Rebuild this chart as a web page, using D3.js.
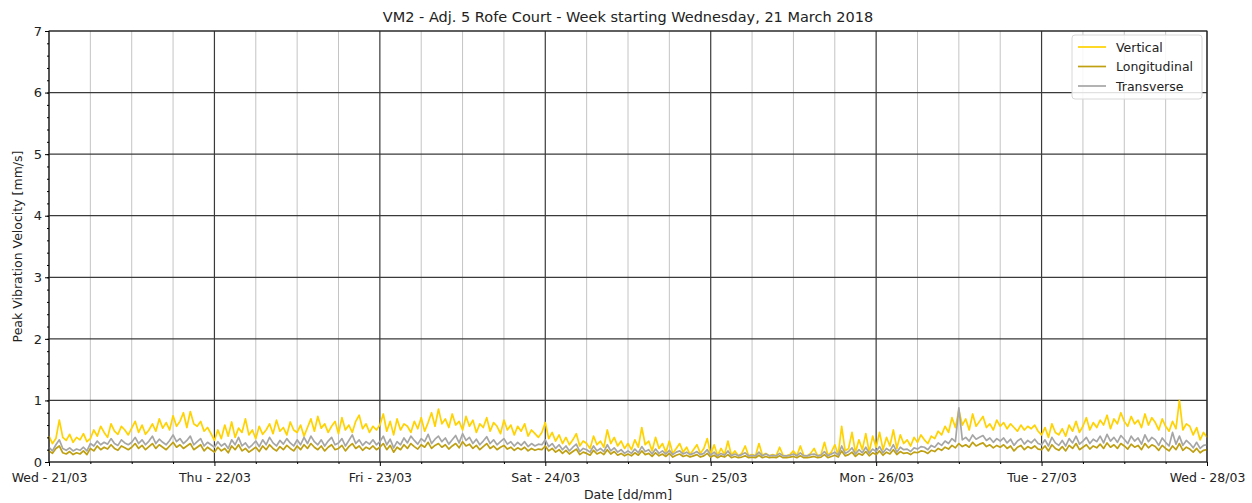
<!DOCTYPE html>
<html>
<head>
<meta charset="utf-8">
<script src="https://cdn.jsdelivr.net/npm/d3@7"></script>
<style>
  body { margin: 0; background: #fff; }
  svg text { font-family: "DejaVu Sans", sans-serif; fill: #222; }
</style>
</head>
<body>
<div id="wrapper"></div>
<script>
// half-hourly peak values [mm/s], Wed 21/03 00:00 to Wed 28/03 00:00
const vertical = [
  0.42,0.30,0.38,0.68,0.40,0.35,0.45,0.32,0.40,0.36,0.46,0.33,
  0.38,0.52,0.42,0.58,0.48,0.40,0.62,0.50,0.45,0.58,0.52,0.44,
  0.55,0.66,0.48,0.60,0.45,0.52,0.62,0.50,0.70,0.55,0.64,0.52,
  0.75,0.58,0.66,0.80,0.56,0.82,0.62,0.58,0.66,0.50,0.56,0.46,
  // Thu
  0.35,0.52,0.38,0.60,0.42,0.65,0.40,0.55,0.48,0.70,0.44,0.52,
  0.38,0.58,0.45,0.52,0.62,0.46,0.68,0.50,0.56,0.44,0.65,0.52,
  0.48,0.60,0.42,0.56,0.70,0.50,0.74,0.55,0.62,0.48,0.58,0.66,
  0.46,0.72,0.52,0.60,0.48,0.66,0.76,0.54,0.62,0.48,0.58,0.52,
  // Fri
  0.60,0.78,0.50,0.66,0.44,0.70,0.52,0.62,0.58,0.48,0.66,0.54,
  0.72,0.50,0.64,0.80,0.58,0.86,0.62,0.70,0.56,0.78,0.60,0.66,
  0.52,0.74,0.58,0.68,0.48,0.62,0.56,0.72,0.50,0.64,0.58,0.46,
  0.68,0.52,0.60,0.44,0.58,0.50,0.62,0.42,0.52,0.46,0.40,0.48,
  // Sat
  0.64,0.38,0.48,0.34,0.44,0.30,0.40,0.28,0.36,0.46,0.26,0.34,
  0.30,0.22,0.42,0.28,0.34,0.24,0.52,0.30,0.40,0.26,0.34,0.22,
  0.30,0.20,0.36,0.24,0.56,0.28,0.34,0.18,0.40,0.22,0.30,0.16,
  0.34,0.14,0.22,0.30,0.16,0.24,0.12,0.20,0.28,0.14,0.22,0.38,
  // Sun
  0.12,0.28,0.10,0.22,0.12,0.34,0.11,0.18,0.10,0.14,0.26,0.10,
  0.12,0.10,0.30,0.11,0.14,0.10,0.12,0.10,0.24,0.11,0.10,0.12,
  0.18,0.10,0.26,0.11,0.10,0.14,0.22,0.10,0.12,0.32,0.11,0.16,
  0.28,0.12,0.58,0.18,0.22,0.48,0.15,0.36,0.20,0.46,0.16,0.42,
  // Mon
  0.24,0.48,0.20,0.40,0.26,0.52,0.22,0.44,0.30,0.36,0.26,0.40,
  0.32,0.44,0.36,0.30,0.42,0.38,0.50,0.44,0.58,0.48,0.72,0.56,
  0.84,0.60,0.70,0.52,0.78,0.58,0.66,0.74,0.56,0.62,0.52,0.68,
  0.58,0.64,0.54,0.62,0.56,0.50,0.60,0.52,0.58,0.54,0.60,0.50,
  // Tue
  0.44,0.56,0.40,0.62,0.48,0.44,0.54,0.42,0.60,0.50,0.66,0.48,
  0.58,0.72,0.52,0.64,0.56,0.68,0.60,0.76,0.54,0.70,0.62,0.80,
  0.66,0.58,0.74,0.62,0.68,0.56,0.78,0.60,0.72,0.64,0.52,0.70,
  0.58,0.50,0.66,0.54,1.00,0.52,0.62,0.58,0.44,0.56,0.36,0.48,
  0.40
];
const longitudinal = [
  0.18,0.14,0.22,0.26,0.15,0.13,0.17,0.12,0.15,0.13,0.18,0.12,
  0.22,0.18,0.26,0.20,0.24,0.21,0.28,0.22,0.19,0.26,0.23,0.20,
  0.24,0.30,0.22,0.27,0.20,0.25,0.30,0.22,0.28,0.24,0.20,0.26,
  0.32,0.24,0.28,0.22,0.26,0.30,0.20,0.24,0.28,0.18,0.24,0.20,
  0.16,0.24,0.18,0.22,0.15,0.26,0.20,0.28,0.18,0.22,0.16,0.20,
  0.24,0.17,0.26,0.20,0.28,0.22,0.18,0.25,0.20,0.27,0.22,0.18,
  0.26,0.20,0.28,0.22,0.30,0.24,0.20,0.26,0.18,0.24,0.28,0.20,
  0.22,0.27,0.18,0.25,0.30,0.22,0.26,0.19,0.24,0.21,0.26,0.20,
  0.24,0.30,0.20,0.27,0.16,0.24,0.20,0.28,0.22,0.30,0.25,0.21,
  0.28,0.24,0.32,0.22,0.27,0.30,0.24,0.28,0.21,0.26,0.30,0.23,
  0.33,0.26,0.29,0.22,0.27,0.20,0.25,0.30,0.22,0.26,0.20,0.24,
  0.27,0.21,0.24,0.19,0.23,0.20,0.24,0.18,0.22,0.19,0.21,0.20,
  0.26,0.18,0.22,0.16,0.20,0.14,0.19,0.13,0.17,0.21,0.12,0.16,
  0.14,0.11,0.19,0.13,0.16,0.12,0.20,0.13,0.17,0.11,0.14,0.10,
  0.13,0.10,0.15,0.11,0.18,0.12,0.14,0.09,0.15,0.10,0.13,0.09,
  0.14,0.08,0.11,0.13,0.09,0.11,0.08,0.10,0.12,0.08,0.10,0.14,
  0.08,0.11,0.07,0.10,0.08,0.12,0.07,0.09,0.07,0.08,0.10,0.07,
  0.08,0.07,0.11,0.07,0.09,0.07,0.08,0.07,0.10,0.07,0.07,0.08,
  0.09,0.07,0.10,0.07,0.07,0.08,0.09,0.07,0.08,0.12,0.07,0.09,
  0.11,0.08,0.18,0.10,0.12,0.16,0.09,0.14,0.11,0.17,0.10,0.15,
  0.12,0.18,0.11,0.16,0.13,0.20,0.12,0.17,0.14,0.15,0.12,0.16,
  0.15,0.18,0.17,0.14,0.19,0.17,0.22,0.19,0.24,0.21,0.27,0.23,
  0.30,0.25,0.28,0.24,0.32,0.26,0.29,0.31,0.25,0.28,0.23,0.27,
  0.24,0.28,0.22,0.26,0.18,0.24,0.27,0.20,0.25,0.22,0.26,0.21,
  0.20,0.26,0.18,0.28,0.22,0.19,0.25,0.18,0.27,0.22,0.30,0.20,
  0.24,0.28,0.21,0.26,0.23,0.29,0.22,0.31,0.24,0.28,0.22,0.30,
  0.26,0.21,0.29,0.24,0.27,0.20,0.30,0.23,0.28,0.25,0.19,0.27,
  0.22,0.18,0.26,0.20,0.30,0.19,0.24,0.21,0.16,0.22,0.15,0.19,
  0.20
];
const transverse = [
  0.24,0.18,0.28,0.36,0.22,0.19,0.23,0.18,0.21,0.19,0.24,0.18,
  0.30,0.26,0.34,0.28,0.32,0.29,0.38,0.30,0.27,0.36,0.31,0.28,
  0.32,0.40,0.30,0.36,0.28,0.34,0.42,0.30,0.37,0.32,0.28,0.35,
  0.44,0.33,0.38,0.30,0.35,0.42,0.28,0.33,0.38,0.26,0.32,0.28,
  0.24,0.33,0.26,0.30,0.22,0.36,0.28,0.40,0.26,0.31,0.23,0.28,
  0.34,0.25,0.36,0.28,0.40,0.31,0.26,0.35,0.29,0.38,0.31,0.26,
  0.36,0.28,0.40,0.30,0.42,0.33,0.28,0.36,0.26,0.34,0.40,0.28,
  0.31,0.38,0.26,0.35,0.44,0.30,0.36,0.27,0.33,0.29,0.36,0.28,
  0.33,0.42,0.28,0.37,0.23,0.33,0.28,0.39,0.31,0.42,0.35,0.29,
  0.38,0.33,0.45,0.30,0.37,0.42,0.33,0.39,0.29,0.36,0.43,0.31,
  0.46,0.35,0.40,0.30,0.37,0.28,0.34,0.41,0.30,0.36,0.28,0.33,
  0.38,0.29,0.33,0.26,0.32,0.27,0.33,0.25,0.30,0.26,0.29,0.28,
  0.36,0.25,0.30,0.22,0.28,0.20,0.26,0.18,0.24,0.29,0.17,0.22,
  0.20,0.16,0.26,0.18,0.22,0.17,0.28,0.18,0.23,0.16,0.20,0.14,
  0.18,0.14,0.21,0.15,0.25,0.17,0.20,0.13,0.21,0.14,0.18,0.13,
  0.19,0.12,0.16,0.18,0.13,0.16,0.12,0.14,0.17,0.12,0.14,0.20,
  0.11,0.16,0.10,0.14,0.11,0.18,0.10,0.13,0.10,0.12,0.15,0.10,
  0.11,0.10,0.16,0.10,0.13,0.10,0.11,0.10,0.14,0.10,0.10,0.11,
  0.13,0.10,0.15,0.10,0.10,0.12,0.13,0.10,0.11,0.17,0.10,0.13,
  0.16,0.11,0.26,0.14,0.17,0.23,0.13,0.20,0.15,0.24,0.14,0.21,
  0.17,0.25,0.15,0.22,0.18,0.28,0.16,0.24,0.20,0.21,0.17,0.23,
  0.21,0.25,0.24,0.20,0.27,0.24,0.31,0.27,0.34,0.30,0.38,0.33,
  0.88,0.36,0.40,0.34,0.44,0.37,0.40,0.43,0.35,0.39,0.32,0.38,
  0.34,0.39,0.31,0.37,0.27,0.34,0.38,0.29,0.35,0.31,0.37,0.30,
  0.28,0.36,0.26,0.40,0.31,0.27,0.35,0.26,0.38,0.31,0.42,0.29,
  0.34,0.40,0.30,0.37,0.33,0.42,0.31,0.45,0.34,0.40,0.32,0.43,
  0.37,0.30,0.42,0.34,0.39,0.29,0.44,0.33,0.40,0.36,0.27,0.39,
  0.32,0.26,0.48,0.29,0.42,0.27,0.35,0.30,0.23,0.32,0.22,0.27,
  0.28
];
const seriesNames = ["Vertical", "Longitudinal", "Transverse"];
const seriesColors = ["#ffd200", "#bfa012", "#a6a6a6"];
const dayLabels = ["Wed - 21/03", "Thu - 22/03", "Fri - 23/03", "Sat - 24/03", "Sun - 25/03", "Mon - 26/03", "Tue - 27/03", "Wed - 28/03"];
const yTicks = [0, 1, 2, 3, 4, 5, 6, 7];

const startDate = new Date(2018, 2, 21);
const endDate = new Date(2018, 2, 28);
const timeOf = (i) => d3.timeMinute.offset(startDate, 30 * i);

let dimensions = {
  width: 1252,
  height: 503,
  margin: { top: 31, right: 45, bottom: 41, left: 49 },
};
dimensions.boundedWidth = dimensions.width - dimensions.margin.left - dimensions.margin.right;
dimensions.boundedHeight = dimensions.height - dimensions.margin.top - dimensions.margin.bottom;

const wrapper = d3.select("#wrapper").append("svg")
  .attr("width", dimensions.width)
  .attr("height", dimensions.height);

const bounds = wrapper.append("g")
  .attr("transform", `translate(${dimensions.margin.left},${dimensions.margin.top})`);

const xScale = d3.scaleTime().domain([startDate, endDate]).range([0, dimensions.boundedWidth]);
const yScale = d3.scaleLinear().domain([0, 7]).range([dimensions.boundedHeight, 0]);

// minor grid, every 6 hours
const minorTimes = d3.timeHour.every(6).range(startDate, endDate).filter((d) => d.getHours() !== 0);
bounds.append("g").selectAll("line").data(minorTimes).join("line")
  .attr("x1", (d) => xScale(d)).attr("x2", (d) => xScale(d))
  .attr("y1", 0).attr("y2", dimensions.boundedHeight)
  .attr("stroke", "#c4c4c4").attr("stroke-width", 1);

// major grid
const dayTimes = d3.timeDay.range(startDate, d3.timeDay.offset(endDate, 1));
bounds.append("g").selectAll("line").data(dayTimes).join("line")
  .attr("x1", (d) => xScale(d)).attr("x2", (d) => xScale(d))
  .attr("y1", 0).attr("y2", dimensions.boundedHeight)
  .attr("stroke", "#3a3a3a").attr("stroke-width", 1.2);
bounds.append("g").selectAll("line").data(yTicks).join("line")
  .attr("x1", 0).attr("x2", dimensions.boundedWidth)
  .attr("y1", (d) => yScale(d)).attr("y2", (d) => yScale(d))
  .attr("stroke", "#3a3a3a").attr("stroke-width", 1.2);

// lines
const allSeries = [vertical, longitudinal, transverse];
const lineGenerator = d3.line()
  .x((d, i) => xScale(timeOf(i)))
  .y((d) => yScale(d));
allSeries.forEach((s, k) => {
  bounds.append("path")
    .attr("d", lineGenerator(s))
    .attr("fill", "none")
    .attr("stroke", seriesColors[k])
    .attr("stroke-width", 1.7)
    .attr("stroke-linejoin", "round");
});

// frame
bounds.append("rect")
  .attr("width", dimensions.boundedWidth).attr("height", dimensions.boundedHeight)
  .attr("fill", "none").attr("stroke", "#222").attr("stroke-width", 1);

// y axis
const yAxis = bounds.append("g")
  .call(d3.axisLeft(yScale).tickValues(yTicks).tickFormat(d3.format("d")).tickSize(4).tickPadding(3));
yAxis.select(".domain").remove();
yAxis.selectAll("text").style("font-size", "13px");
bounds.append("g")
  .call(d3.axisLeft(yScale).tickValues(d3.range(0, 7.01, 0.2)).tickFormat("").tickSize(2))
  .select(".domain").remove();

// x axis
const xAxis = bounds.append("g")
  .attr("transform", `translate(0,${dimensions.boundedHeight})`)
  .call(d3.axisBottom(xScale).tickValues(dayTimes).tickFormat((d, i) => dayLabels[i]).tickSize(4).tickPadding(7));
xAxis.select(".domain").remove();
xAxis.selectAll("text").style("font-size", "12.5px");
bounds.append("g")
  .attr("transform", `translate(0,${dimensions.boundedHeight})`)
  .call(d3.axisBottom(xScale).tickValues(minorTimes).tickFormat("").tickSize(2))
  .select(".domain").remove();

// axis labels
wrapper.append("text")
  .attr("x", dimensions.margin.left + dimensions.boundedWidth / 2)
  .attr("y", 499)
  .attr("text-anchor", "middle")
  .style("font-size", "12.5px")
  .text("Date [dd/mm]");
wrapper.append("text")
  .attr("transform", `translate(22,${dimensions.margin.top + dimensions.boundedHeight / 2}) rotate(-90)`)
  .attr("text-anchor", "middle")
  .style("font-size", "12.5px")
  .text("Peak Vibration Velocity [mm/s]");

// title
wrapper.append("text")
  .attr("x", dimensions.margin.left + dimensions.boundedWidth / 2)
  .attr("y", 22)
  .attr("text-anchor", "middle")
  .style("font-size", "14.5px")
  .text("VM2 - Adj. 5 Rofe Court - Week starting Wednesday, 21 March 2018");

// legend
const legend = wrapper.append("g").attr("transform", "translate(1072,35)");
legend.append("rect")
  .attr("width", 130).attr("height", 64).attr("rx", 3)
  .attr("fill", "#fff").attr("fill-opacity", 0.85)
  .attr("stroke", "#d8d8d8");
seriesNames.forEach((name, k) => {
  const y = 12 + k * 19.5;
  legend.append("line")
    .attr("x1", 6).attr("x2", 34).attr("y1", y).attr("y2", y)
    .attr("stroke", seriesColors[k]).attr("stroke-width", 1.7);
  legend.append("text")
    .attr("x", 44).attr("y", y + 4.5)
    .style("font-size", "12.5px")
    .text(name);
});
</script>
</body>
</html>
